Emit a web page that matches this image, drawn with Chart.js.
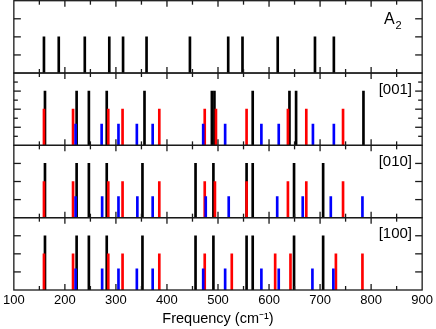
<!DOCTYPE html>
<html><head><meta charset="utf-8">
<script src="https://cdn.jsdelivr.net/npm/chart.js@4/dist/chart.umd.min.js"></script>
<style>html,body{margin:0;padding:0;background:#fff}#wrap{width:436px;height:329px;position:relative}</style>
</head><body><div id="wrap"><canvas id="c" width="436" height="329"></canvas></div>
<script>
// ---- data (frequencies in cm^-1) ----
const xTickLabels = [100, 200, 300, 400, 500, 600, 700, 800, 900];
const panelNames = ['A2', '[001]', '[010]', '[100]'];
const stickHeights = { black: 3, red: 2, blue: 1.17, a2: 2 };

const a2Black = [159, 188, 239, 287, 314, 360, 445, 520, 548, 617, 690, 727];

const p001Black = [161, 223, 247, 282, 356, 488, 493, 568, 640, 653, 785];
const p001Red   = [159, 216, 285, 313, 385, 474, 496, 556, 637, 673, 745];
const p001Blue  = [221, 272, 305, 341, 372, 471, 514, 585, 619, 686, 727];

const p010Black = [161, 223, 247, 282, 352, 456, 491, 556, 568, 649, 706];
const p010Red   = [159, 216, 285, 313, 385, 474, 494, 556, 637, 673, 745];
const p010Blue  = [221, 273, 305, 342, 372, 476, 521, 616, 666, 721, 783];

const p100Black = [161, 223, 247, 282, 352, 456, 491, 556, 568, 649, 706];
const p100Red   = [159, 216, 285, 313, 385, 474, 527, 612, 642, 731, 783];
const p100Blue  = [221, 273, 305, 341, 372, 471, 514, 585, 619, 685, 726];

// ---- build ----
const FONT = "'Liberation Sans', Arial, Helvetica, sans-serif";
function sticks(freqs, h, color, axis) {
  return {
    type: 'bar',
    data: freqs.map(f => ({ x: f, y: h })),
    yAxisID: axis, xAxisID: 'x',
    backgroundColor: color, borderWidth: 0,
    barThickness: 2, grouped: false
  };
}
const datasets = [
  sticks(p001Blue, stickHeights.blue, '#0000ff', 'p2'),
  sticks(p010Blue, stickHeights.blue, '#0000ff', 'p3'),
  sticks(p100Blue, stickHeights.blue, '#0000ff', 'p4'),
  sticks(p001Red, stickHeights.red, '#ff0000', 'p2'),
  sticks(p010Red, stickHeights.red, '#ff0000', 'p3'),
  sticks(p100Red, stickHeights.red, '#ff0000', 'p4'),
  sticks(a2Black, stickHeights.a2, '#000000', 'p1'),
  sticks(p001Black, stickHeights.black, '#000000', 'p2'),
  sticks(p010Black, stickHeights.black, '#000000', 'p3'),
  sticks(p100Black, stickHeights.black, '#000000', 'p4')
];

function panelScale(w) {
  return {
    type: 'linear', min: 0, max: 4, position: 'left',
    stack: 'panels', stackWeight: 1, weight: w,
    ticks: { display: false }, grid: { display: false, drawTicks: false },
    border: { display: false },
    afterFit: s => { s.width = 0; }
  };
}
const panelIds = ['p1', 'p2', 'p3', 'p4'];
const yTickSets = [[1, 2, 3], [0.5, 1, 1.5, 2, 2.5, 3, 3.5], [1, 2, 3], [1, 2, 3]];

const framePlugin = {
  id: 'frames',
  afterDraw(chart) {
    const ctx = chart.ctx, xs = chart.scales.x;
    const L = chart.chartArea.left, R = chart.chartArea.right;
    ctx.save();
    ctx.strokeStyle = '#1a1a1a';
    ctx.lineWidth = 1.3;
    const seg = (x1, y1, x2, y2) => { ctx.beginPath(); ctx.moveTo(x1, y1); ctx.lineTo(x2, y2); ctx.stroke(); };
    panelIds.forEach((id, i) => {
      const s = chart.scales[id];
      const top = s.top, bot = s.bottom;
      ctx.strokeRect(L, top, R - L, bot - top);
      for (let v = 150; v < 900; v += 50) {
        const px = xs.getPixelForValue(v);
        const len = v % 100 === 0 ? 6 : 4;
        seg(px, bot, px, bot - len);
        seg(px, top, px, top + len);
      }
      yTickSets[i].forEach(v => {
        const py = s.getPixelForValue(v);
        const len = Number.isInteger(v) ? 7 : 4;
        seg(L, py, L + len, py);
        seg(R, py, R - len, py);
      });
    });
    // panel labels
    ctx.fillStyle = '#000';
    ctx.textBaseline = 'alphabetic';
    panelIds.forEach((id, i) => {
      const s = chart.scales[id];
      if (i === 0) {
        ctx.font = '16px ' + FONT;
        ctx.textAlign = 'left';
        ctx.fillText('A', 384, s.top + 23.3);
        ctx.font = '11px ' + FONT;
        ctx.fillText('2', 395.5, s.top + 28.3);
      } else {
        ctx.font = '15px ' + FONT;
        ctx.textAlign = 'right';
        ctx.fillText(panelNames[i], 412, s.top + 20.5);
      }
    });
    ctx.restore();
  }
};

new Chart(document.getElementById('c'), {
  type: 'bar',
  data: { datasets },
  options: {
    responsive: false, animation: false, devicePixelRatio: 1,
    layout: { padding: { left: 11, right: 12.7, top: 0.7, bottom: 0 } },
    plugins: { legend: { display: false }, tooltip: { enabled: false } },
    scales: {
      x: {
        type: 'linear', position: 'bottom', min: 100, max: 900, offset: false,
        afterBuildTicks: s => { s.ticks = xTickLabels.map(v => ({ value: v })); },
        ticks: { font: { family: FONT, size: 13 }, color: '#000', padding: 3, maxRotation: 0, autoSkip: false },
        grid: { display: false, drawTicks: false },
        border: { display: false },
        title: { display: true, text: 'Frequency (cm⁻¹)', color: '#000',
                 font: { family: FONT, size: 14.5, lineHeight: 1.2 }, padding: { top: 0, bottom: 1.3 } },
        afterFit: s => { s.height = 39; }
      },
      p1: panelScale(4), p2: panelScale(3), p3: panelScale(2), p4: panelScale(1)
    }
  },
  plugins: [framePlugin]
});
</script></body></html>
